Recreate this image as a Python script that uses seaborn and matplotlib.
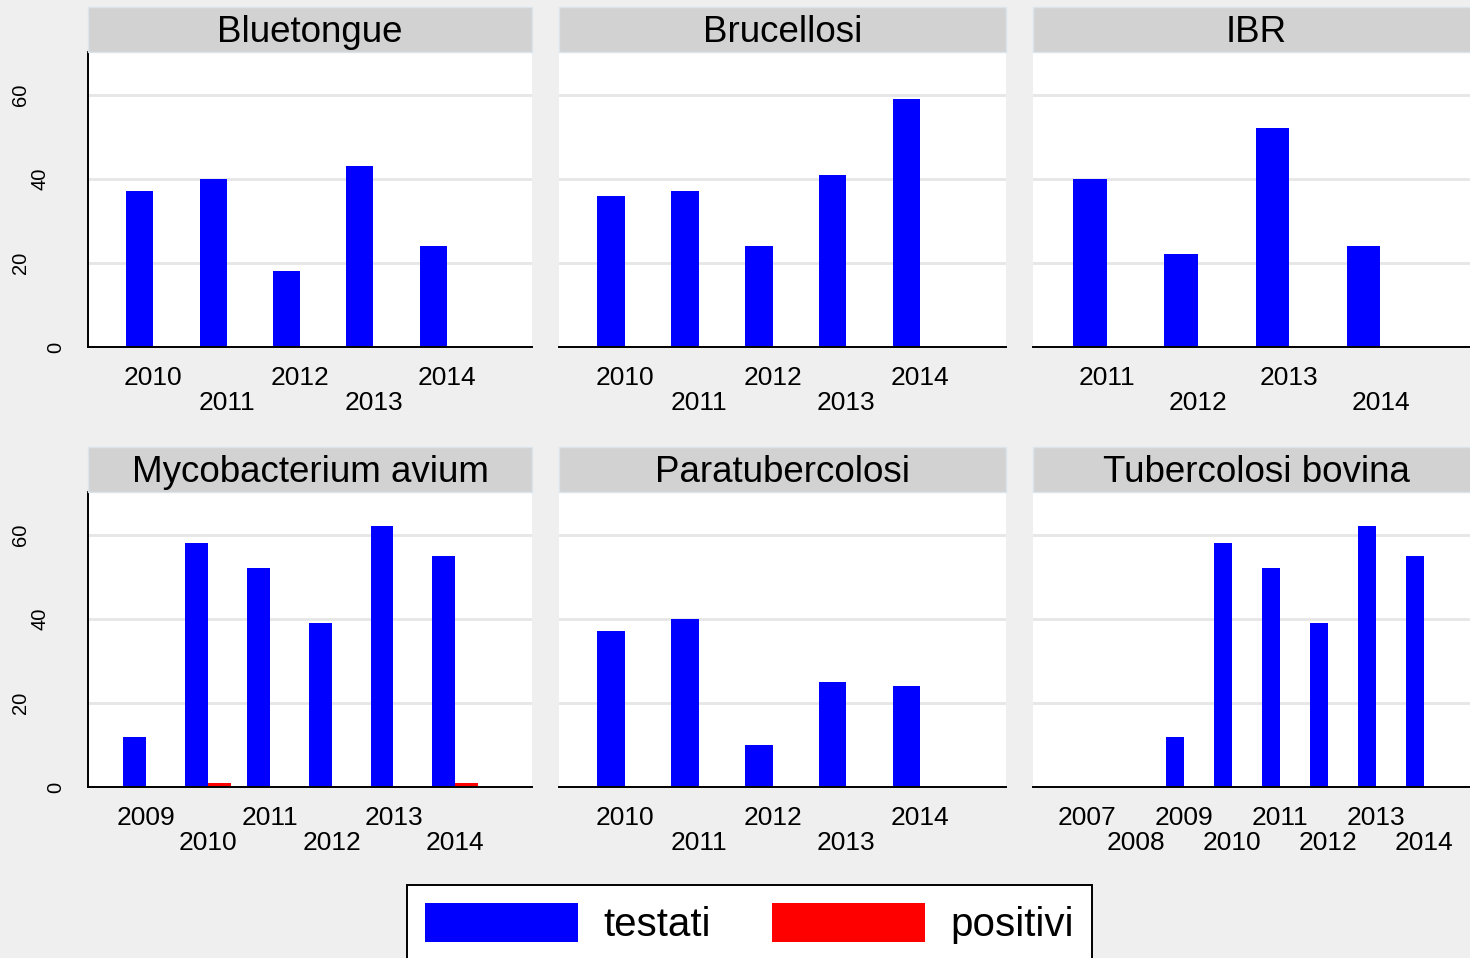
import numpy as np
import pandas as pd
import matplotlib
matplotlib.use('Agg')
import matplotlib.pyplot as plt
import matplotlib.transforms as mtransforms
from matplotlib.patches import Rectangle
import seaborn as sns

# ---- dati ----
malattie = ['Bluetongue', 'Brucellosi', 'IBR',
            'Mycobacterium avium', 'Paratubercolosi', 'Tubercolosi bovina']

anni_bluetongue = [2010, 2011, 2012, 2013, 2014]
testati_bluetongue = [37, 40, 18, 43, 24]
positivi_bluetongue = [0, 0, 0, 0, 0]

anni_brucellosi = [2010, 2011, 2012, 2013, 2014]
testati_brucellosi = [36, 37, 24, 41, 59]
positivi_brucellosi = [0, 0, 0, 0, 0]

anni_ibr = [2011, 2012, 2013, 2014]
testati_ibr = [40, 22, 52, 24]
positivi_ibr = [0, 0, 0, 0]

anni_myco = [2009, 2010, 2011, 2012, 2013, 2014]
testati_myco = [12, 58, 52, 39, 62, 55]
positivi_myco = [0, 1, 0, 0, 0, 1]

anni_paratbc = [2010, 2011, 2012, 2013, 2014]
testati_paratbc = [37, 40, 10, 25, 24]
positivi_paratbc = [0, 0, 0, 0, 0]

anni_tbc = [2007, 2008, 2009, 2010, 2011, 2012, 2013, 2014]
testati_tbc = [0, 0, 12, 58, 52, 39, 62, 55]
positivi_tbc = [0, 0, 0, 0, 0, 0, 0, 0]

serie = ['testati', 'positivi']
colori = {'testati': '#0000ff', 'positivi': '#ff0000'}
yticks = [0, 20, 40, 60]

pannelli = [
    (anni_bluetongue, testati_bluetongue, positivi_bluetongue),
    (anni_brucellosi, testati_brucellosi, positivi_brucellosi),
    (anni_ibr, testati_ibr, positivi_ibr),
    (anni_myco, testati_myco, positivi_myco),
    (anni_paratbc, testati_paratbc, positivi_paratbc),
    (anni_tbc, testati_tbc, positivi_tbc),
]

# ---- layout (pixel) ----
W, H = 1470, 958
col_x = [(88, 532), (559, 1006), (1033, 1479)]
row_y = [(7, 52, 347), (447, 492, 787)]   # strip top, plot top, asse zero
px_per_unit = 4.207
xlim_per_n = {4: (-0.81, 4.08), 5: (-0.89, 5.16), 6: (-0.94, 6.24), 8: (-1.13, 8.14)}
ylab_shift = {0: 0, 20: -35, 40: -16, 60: -35}

sns.set_theme(style='white')
plt.rcParams['font.family'] = ['Liberation Sans', 'DejaVu Sans']
plt.rcParams['text.color'] = 'black'

fig = plt.figure(figsize=(W / 100, H / 100), dpi=100, facecolor='#efefef')

handles, labels = None, None
for k, (nome, (anni, testati, positivi)) in enumerate(zip(malattie, pannelli)):
    r, c = divmod(k, 3)
    x0, x1 = col_x[c]
    stop, ptop, pbot = row_y[r]

    ax = fig.add_axes([x0 / W, 1 - pbot / H, (x1 - x0) / W, (pbot - ptop) / H])
    ax.set_facecolor('white')

    df = pd.DataFrame({
        'anno': [str(a) for a in anni] * 2,
        'n': list(testati) + list(positivi),
        'serie': ['testati'] * len(anni) + ['positivi'] * len(anni),
    })
    sns.barplot(data=df, x='anno', y='n', hue='serie', hue_order=serie,
                order=[str(a) for a in anni], palette=colori, width=0.74, gap=0,
                errorbar=None, linewidth=0, saturation=1, ax=ax, legend=(k == 0))
    if k == 0:
        leg = ax.get_legend()
        handles = leg.legend_handles
        labels = [t.get_text() for t in leg.get_texts()]
        leg.remove()

    n = len(anni)
    ax.set_xlim(*xlim_per_n[n])
    ax.set_ylim(0, (pbot - ptop) / px_per_unit)
    ax.set_xlabel('')
    ax.set_ylabel('')

    # etichette anni su due righe alternate
    pos = np.arange(n)
    ax.set_xticks(pos[::2], [str(a) for a in anni[::2]])
    ax.set_xticks(pos[1::2], [str(a) for a in anni[1::2]], minor=True)
    ax.tick_params(axis='x', which='both', length=0, labelsize=19, colors='black')
    ax.tick_params(axis='x', which='major', pad=13.5)
    ax.tick_params(axis='x', which='minor', pad=32)

    ax.set_yticks(yticks)
    ax.yaxis.grid(True, color='#e6e6e6', lw=2)
    ax.xaxis.grid(False)
    ax.set_axisbelow(True)

    for s in ['top', 'right']:
        ax.spines[s].set_visible(False)
    ax.spines['bottom'].set_color('black')
    ax.spines['bottom'].set_linewidth(1.4)

    if c == 0:
        ax.spines['left'].set_color('black')
        ax.spines['left'].set_linewidth(1.4)
        ax.tick_params(axis='y', length=9.4, width=1.1, color='black',
                       labelsize=14.5, labelrotation=90, pad=7, labelcolor='black')
        for val, lab in zip(yticks, ax.get_yticklabels()):
            lab.set_verticalalignment('center')
            off = mtransforms.ScaledTranslation(ylab_shift[val] / 100, 0, fig.dpi_scale_trans)
            lab.set_transform(lab.get_transform() + off)
    else:
        ax.spines['left'].set_visible(False)
        ax.tick_params(axis='y', left=False, labelleft=False)

    # striscia del titolo
    fig.add_artist(Rectangle((x0 / W, 1 - ptop / H), (x1 - x0) / W, (ptop - stop) / H,
                             transform=fig.transFigure, facecolor='#d2d2d2',
                             edgecolor='#dce4eb', lw=1))
    fig.text((x0 + x1) / 2 / W, 1 - (stop + 35) / H, nome, ha='center',
             va='baseline', fontsize=26.5, color='black')

legenda = fig.legend(handles, labels, loc='upper center', ncol=2,
                     bbox_to_anchor=(749.5 / W, 1 - 885 / H), fontsize=29,
                     handlelength=3.8, handleheight=1.12, handletextpad=0.63,
                     columnspacing=1.5, borderpad=0.45, borderaxespad=0,
                     frameon=True, fancybox=False, edgecolor='black',
                     facecolor='white', framealpha=1, labelcolor='black')
legenda.get_frame().set_linewidth(1.4)

fig.savefig('out.png', dpi=100, facecolor=fig.get_facecolor())
